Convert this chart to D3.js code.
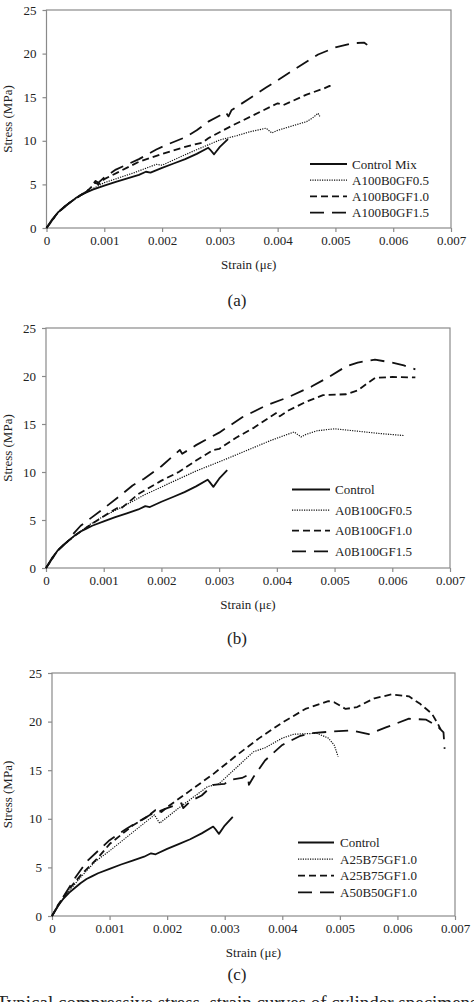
<!DOCTYPE html>
<html lang="en">
<head>
<meta charset="UTF-8">
<title>Stress-strain curves</title>
<script src="https://cdn.jsdelivr.net/npm/d3@7"></script>
<style>
  body { margin: 0; background: #fff; }
  svg text { font-family: "Liberation Serif", "Times New Roman", serif; fill: #222; }
</style>
</head>
<body>
<div id="container"></div>
<script>
// tick values
const xTicks = [0, 0.001, 0.002, 0.003, 0.004, 0.005, 0.006, 0.007];
const yTicks = [0, 5, 10, 15, 20, 25];

// control mix, same in every panel
const control = [[0,0],[0.0001,1.0],[0.0002,1.8],[0.0003,2.4],[0.0004,2.9],[0.0005,3.4],[0.0006,3.8],[0.0007,4.1],[0.0008,4.4],[0.001,4.85],[0.0012,5.3],[0.0014,5.7],[0.0016,6.1],[0.00172,6.45],[0.0018,6.35],[0.002,6.9],[0.0022,7.4],[0.0024,7.9],[0.0026,8.5],[0.0028,9.2],[0.00283,9.0],[0.0029,8.45],[0.003,9.3],[0.00314,10.2]];

// panel (a)
const a05 = [[0,0],[0.0002,1.8],[0.0004,2.9],[0.0006,3.8],[0.0008,4.5],[0.001,5.2],[0.0015,6.3],[0.0019,7.3],[0.002,7.2],[0.0025,8.7],[0.003,10.1],[0.0033,10.6],[0.0035,11.0],[0.0038,11.45],[0.0039,10.9],[0.004,11.2],[0.0043,11.8],[0.0045,12.2],[0.0046,12.6],[0.0047,13.15],[0.00473,12.8]];
const a10 = [[0,0],[0.0002,1.8],[0.0004,2.9],[0.0006,3.8],[0.0007,4.2],[0.00085,5.2],[0.0009,5.0],[0.001,5.6],[0.0013,6.6],[0.0016,7.6],[0.002,8.5],[0.0024,9.3],[0.0027,9.8],[0.0028,10.3],[0.0032,11.7],[0.0036,13.0],[0.004,14.3],[0.0041,14.1],[0.0045,15.3],[0.0048,16.0],[0.0049,16.3],[0.00493,16.1]];
const a15 = [[0,0],[0.0002,1.8],[0.0004,2.9],[0.0006,3.8],[0.0007,4.2],[0.00085,5.4],[0.0009,5.2],[0.001,5.8],[0.0012,6.7],[0.0016,7.9],[0.0019,9.0],[0.0021,9.6],[0.0024,10.4],[0.0026,11.2],[0.0028,12.2],[0.003,12.9],[0.0031,13.3],[0.00315,12.8],[0.0032,13.5],[0.0035,14.8],[0.0038,16.1],[0.0042,17.8],[0.0047,19.9],[0.005,20.7],[0.0053,21.2],[0.0055,21.25],[0.00555,21.0]];

// panel (b)
const b05 = [[0,0],[0.0002,1.8],[0.0004,2.9],[0.0006,3.8],[0.00075,4.5],[0.001,5.4],[0.0013,6.3],[0.0017,7.6],[0.0022,9.0],[0.0026,10.1],[0.0031,11.3],[0.0035,12.3],[0.0039,13.3],[0.0043,14.17],[0.00442,13.65],[0.0045,13.9],[0.0047,14.3],[0.005,14.5],[0.0054,14.25],[0.0058,14.0],[0.0062,13.8]];
const b10 = [[0,0],[0.0002,1.8],[0.0004,2.9],[0.0006,3.8],[0.0008,4.6],[0.001,5.4],[0.00125,6.3],[0.0013,6.2],[0.0016,7.7],[0.002,9.1],[0.0023,10.0],[0.0026,11.2],[0.0029,12.3],[0.003,12.4],[0.0033,13.6],[0.0036,14.6],[0.004,16.2],[0.00405,15.8],[0.0042,16.4],[0.0045,17.3],[0.0048,18.0],[0.0052,18.1],[0.0054,18.5],[0.0057,19.8],[0.006,19.9],[0.0064,19.85]];
const b15 = [[0,0],[0.0002,1.8],[0.0004,2.9],[0.00045,3.4],[0.0006,4.4],[0.0008,5.3],[0.001,6.2],[0.0013,7.6],[0.0015,8.6],[0.0017,9.3],[0.002,10.6],[0.00232,12.3],[0.00236,11.9],[0.0026,12.8],[0.003,14.1],[0.0034,15.7],[0.0038,16.9],[0.0042,17.8],[0.0046,18.9],[0.0049,19.9],[0.0052,21.0],[0.0054,21.4],[0.0057,21.7],[0.006,21.4],[0.0062,21.1],[0.0064,20.7]];

// panel (c)
const c25dot = [[0,0],[0.0001,1.0],[0.0003,2.6],[0.0005,4.0],[0.00075,5.6],[0.001,6.7],[0.0014,8.6],[0.00178,10.4],[0.00187,9.55],[0.0022,11.1],[0.0027,13.3],[0.0029,13.6],[0.0031,14.7],[0.0035,16.9],[0.0037,17.3],[0.004,18.3],[0.0042,18.7],[0.0046,18.8],[0.0048,18.3],[0.0049,17.6],[0.00497,16.4]];
const c25dash = [[0,0],[0.0001,1.1],[0.0003,2.8],[0.0005,4.2],[0.0008,6.0],[0.001,7.4],[0.0014,9.3],[0.00165,10.2],[0.0018,10.9],[0.0019,10.7],[0.002,11.2],[0.0024,12.9],[0.0028,14.6],[0.0032,16.5],[0.0036,18.3],[0.004,19.9],[0.0044,21.3],[0.0048,22.1],[0.0049,22.0],[0.0051,21.3],[0.0053,21.5],[0.0056,22.4],[0.0059,22.8],[0.0062,22.6],[0.0064,21.8],[0.0066,20.8],[0.0067,19.8],[0.00675,19.2]];
const c50 = [[0,0],[0.0002,2.0],[0.0004,3.9],[0.0006,5.6],[0.0008,6.7],[0.001,7.8],[0.0013,9.0],[0.0017,10.4],[0.002,11.1],[0.00225,11.6],[0.00228,11.1],[0.0024,11.8],[0.0026,12.4],[0.0028,13.5],[0.003,13.6],[0.0031,14.0],[0.0033,14.2],[0.0034,14.5],[0.00342,13.5],[0.0035,14.3],[0.0037,16.0],[0.004,17.6],[0.0043,18.5],[0.0045,18.8],[0.0049,19.0],[0.0052,19.1],[0.0055,18.7],[0.0058,19.4],[0.0062,20.3],[0.0065,20.2],[0.0067,19.5],[0.0068,18.9],[0.00682,17.2]];

const labelsA = ["Control Mix", "A100B0GF0.5", "A100B0GF1.0", "A100B0GF1.5"];
const labelsB = ["Control", "A0B100GF0.5", "A0B100GF1.0", "A0B100GF1.5"];
const labelsC = ["Control", "A25B75GF1.0", "A25B75GF1.0", "A50B50GF1.0"];

// line styles: solid, dotted, short dash, long dash
const styles = [
  {dash: null, w: 1.8},
  {dash: "1.2,1.2", w: 1.2},
  {dash: "7,4", w: 1.8},
  {dash: "14,8", w: 1.8}
];

const W = 474, H = 1002;
const svg = d3.select("#container").append("svg")
  .attr("width", W).attr("height", H);

const panels = [
  {series: [control, a05, a10, a15], labels: labelsA, tag: "(a)",
   left: 46.5, right: 451, top: 10, bottom: 228,
   leg: {x1: 310, x2: 347, tx: 352, y: 164, dy: 16.2}, tickY: 247, titleY: 269, tagY: 306},
  {series: [control, b05, b10, b15], labels: labelsB, tag: "(b)",
   left: 46, right: 450, top: 328, bottom: 568,
   leg: {x1: 292, x2: 330, tx: 335, y: 489.5, dy: 20.6}, tickY: 587, titleY: 609, tagY: 644},
  {series: [control, c25dot, c25dash, c50], labels: labelsC, tag: "(c)",
   left: 52, right: 455, top: 673, bottom: 916,
   leg: {x1: 298, x2: 334, tx: 340, y: 842.5, dy: 16.6}, tickY: 936, titleY: 957, tagY: 980}
];

panels.forEach(p => {
  const x = d3.scaleLinear().domain([0, 0.007]).range([p.left, p.right]);
  const y = d3.scaleLinear().domain([0, 25]).range([p.bottom, p.top]);
  const g = svg.append("g");

  // plot frame
  g.append("rect")
    .attr("x", p.left).attr("y", p.top)
    .attr("width", p.right - p.left).attr("height", p.bottom - p.top)
    .attr("fill", "none").attr("stroke", "#8a8a8a").attr("stroke-width", 1.2);

  const xAxis = g.append("g")
    .attr("transform", `translate(0,${p.bottom})`)
    .call(d3.axisBottom(x).tickValues(xTicks).tickSize(4).tickPadding(4)
      .tickFormat(d => d === 0 ? "0" : d3.format(".3f")(d)));
  const yAxis = g.append("g")
    .attr("transform", `translate(${p.left},0)`)
    .call(d3.axisLeft(y).tickValues(yTicks).tickSize(4).tickPadding(6));
  [xAxis, yAxis].forEach(a => {
    a.select(".domain").remove();
    a.selectAll("line").attr("stroke", "#8a8a8a").attr("stroke-width", 1.2);
    a.selectAll("text").attr("font-size", 13)
      .attr("font-family", "'Liberation Serif', 'Times New Roman', serif").attr("fill", "#222");
  });

  // axis titles
  g.append("text")
    .attr("x", (p.left + p.right) / 2).attr("y", p.titleY)
    .attr("text-anchor", "middle").attr("font-size", 13)
    .text("Strain (με)");
  g.append("text")
    .attr("transform", `translate(12,${(p.top + p.bottom) / 2}) rotate(-90)`)
    .attr("text-anchor", "middle").attr("font-size", 13)
    .text("Stress (MPa)");
  g.append("text")
    .attr("x", 237).attr("y", p.tagY)
    .attr("text-anchor", "middle").attr("font-size", 17)
    .text(p.tag);

  // curves
  const line = d3.line().x(d => x(d[0])).y(d => y(d[1]));
  p.series.forEach((s, i) => {
    g.append("path")
      .datum(s)
      .attr("d", line)
      .attr("fill", "none")
      .attr("stroke", "#111")
      .attr("stroke-width", styles[i].w)
      .attr("stroke-dasharray", styles[i].dash)
      .attr("stroke-linejoin", "round");
  });

  // legend
  p.labels.forEach((lab, i) => {
    const ly = p.leg.y + i * p.leg.dy;
    g.append("line")
      .attr("x1", p.leg.x1).attr("x2", p.leg.x2)
      .attr("y1", ly).attr("y2", ly)
      .attr("stroke", "#111")
      .attr("stroke-width", styles[i].w)
      .attr("stroke-dasharray", styles[i].dash);
    g.append("text")
      .attr("x", p.leg.tx).attr("y", ly + 4.5)
      .attr("font-size", 13)
      .text(lab);
  });
});

// caption, only its top shows at the bottom edge, as in the source image
svg.append("text")
  .attr("x", 237).attr("y", 1009)
  .attr("text-anchor", "middle").attr("font-size", 19)
  .text("Typical compressive stress–strain curves of cylinder specimens");
</script>
</body>
</html>
